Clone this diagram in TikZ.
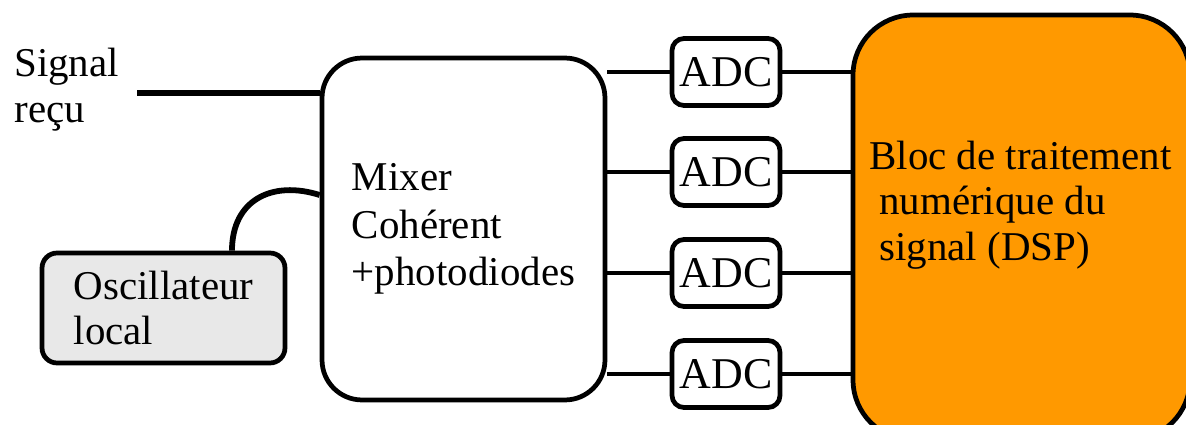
\documentclass[tikz,border=0pt]{standalone}
\usepackage{fontspec}
\setmainfont{Liberation Serif}
\usetikzlibrary{positioning}
\definecolor{dsporange}{RGB}{255,153,0}
\definecolor{oscgray}{RGB}{232,232,232}

\begin{document}
\begin{tikzpicture}[x=0.02cm, y=-0.02cm, line width=2.7pt,
  every node/.style={font=\fontsize{23.3}{26}\selectfont},
  block/.style={draw, line width=2.7pt, inner sep=0pt},
  adcbox/.style={block, rounded corners=0.24cm, minimum width=2.16cm, minimum height=1.34cm,
    font=\fontsize{25}{26}\selectfont}]
	\useasboundingbox (0,0) rectangle (1186,425);
	% blocks
	\node[block, rounded corners=0.8cm, minimum width=5.66cm, minimum height=6.84cm, align=left,
	  font=\fontsize{23.3}{27}\selectfont] (mixer) at (463.5,229) {Mixer\\Cohérent\\+photodiodes};
	\node[block, fill=oscgray, rounded corners=0.3cm, minimum width=4.86cm, minimum height=2.2cm,
	  align=left] (osc) at (163.5,308) {Oscillateur\\local};
	\node[block, fill=dsporange, rounded corners=1.2cm, minimum width=6.74cm, minimum height=8.5cm] (dsp) at (1021.5,227.5) {};
	\node[align=left, anchor=west, inner sep=0pt] (dsptxt) at (867,205)
	  {Bloc de traitement\\\hspace*{0.2cm}numérique du\\\hspace*{0.2cm}signal (DSP)};
	\node[align=left, anchor=west, inner sep=0pt] (sigtxt) at (12,90) {Signal\\reçu};
	% inputs
	\coordinate (sigin) at (137,93);
	\draw[line width=3.3pt] (sigin) -- (sigin -| mixer.west);
	\draw[line width=3.3pt] ([xshift=1.37cm]osc.north) .. controls (232,200) and (272,180) .. ([yshift=0.68cm]mixer.west);
	% converters
	\foreach \i/\y in {1/72, 2/172, 3/273, 4/374} {
		\node[adcbox] (adc\i) at (726,\y) {ADC};
		\draw (adc\i.west -| mixer.east) -- (adc\i.west);
		\draw (adc\i.east) -- (adc\i.east -| dsp.west);
	}
\end{tikzpicture}
\end{document}
